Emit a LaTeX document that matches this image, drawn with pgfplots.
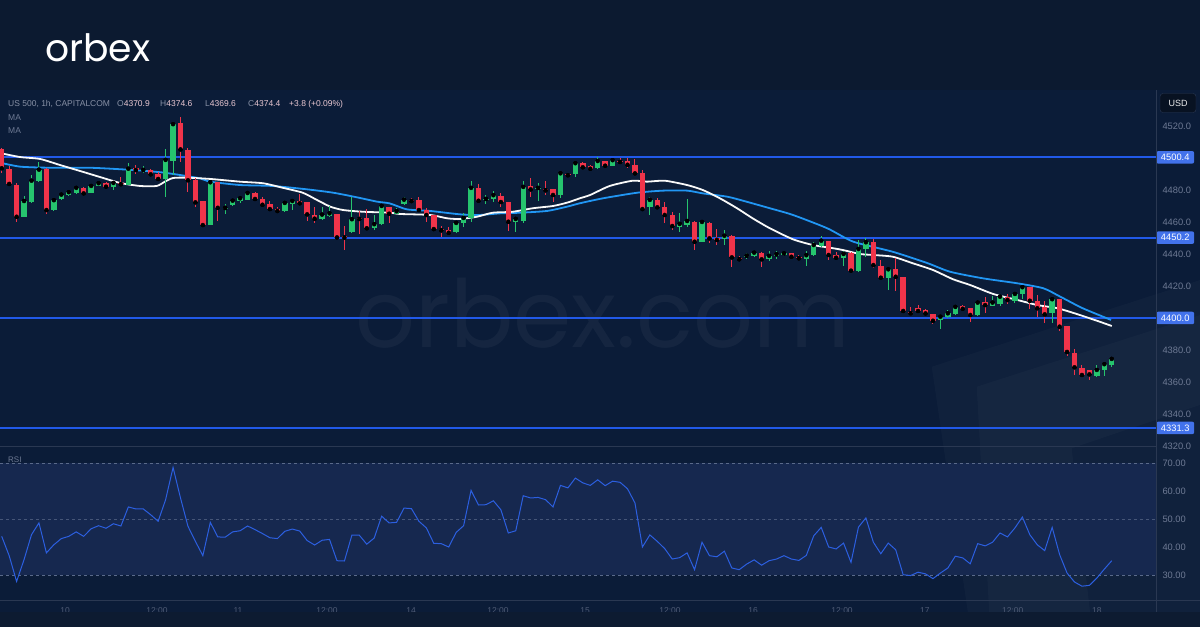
\documentclass[border=0pt]{standalone}
\usepackage{pgfplots}
\pgfplotsset{compat=1.18}
\usepackage{pgfplotstable}
\usepackage{fontspec}
\setmainfont{Liberation Sans}
\newfontfamily\logofont{Poppins}
\definecolor{hdrbg}{HTML}{0C1A30}
\definecolor{chartbg}{HTML}{0B1C38}
\definecolor{footbg}{HTML}{0D1B31}
\definecolor{rsiband}{HTML}{16284F}
\definecolor{cgreen}{HTML}{26C46E}
\definecolor{cred}{HTML}{F0344A}
\definecolor{hline}{HTML}{2159E8}
\definecolor{maBlue}{HTML}{2196F3}
\definecolor{axtxt}{HTML}{6E7A94}
\definecolor{dimtxt}{HTML}{4F5B75}
\definecolor{sep}{HTML}{2A3852}
\definecolor{rsiline}{HTML}{2C5FE0}
\definecolor{valtxt}{HTML}{EBC9D3}
\definecolor{hdrtxt}{HTML}{8790A5}
\definecolor{dashc}{HTML}{5A6A8A}

\pgfplotstableread{
i O H L C
3 4463.1 4476.4 4463.1 4473.1
4 4472.3 4489.4 4471.7 4485.8
5 4485.4 4497.7 4485.2 4492.7
7 4467.5 4474.2 4466.9 4473.6
8 4474.2 4477.5 4473.8 4477.1
9 4476.9 4479.8 4476.4 4478.6
10 4478.3 4482.5 4477.7 4481.3
12 4478.3 4483.8 4477.9 4482.5
13 4482.7 4485.2 4482.5 4484.2
15 4482.1 4485.2 4480.0 4484.4
17 4483.1 4497.1 4483.1 4493.3
19 4491.9 4495.2 4490.4 4492.5
22 4486.7 4505.4 4475.8 4498.8
23 4498.3 4521.5 4489.4 4521.1
28 4458.1 4485.0 4457.9 4484.8
30 4468.3 4471.3 4465.0 4468.8
31 4470.4 4473.8 4470.0 4473.3
32 4472.9 4475.8 4471.7 4474.8
33 4474.0 4479.4 4473.8 4478.1
38 4466.9 4472.7 4466.4 4471.9
39 4471.4 4473.8 4467.5 4473.1
43 4462.1 4469.6 4461.3 4464.6
44 4463.9 4470.2 4462.9 4465.4
47 4453.9 4475.4 4453.3 4461.7
50 4456.1 4464.4 4454.9 4458.6
51 4458.8 4471.3 4457.9 4470.0
53 4465.2 4468.6 4465.0 4466.7
54 4471.3 4475.4 4470.6 4473.9
61 4453.6 4460.8 4452.9 4459.4
62 4459.4 4465.4 4457.1 4462.5
63 4462.3 4485.6 4460.2 4481.3
65 4473.8 4477.1 4471.3 4474.4
66 4474.4 4479.4 4472.3 4476.7
69 4459.8 4463.3 4453.6 4461.9
70 4460.8 4485.8 4459.6 4481.9
72 4480.6 4484.4 4473.3 4481.3
75 4476.9 4490.6 4474.8 4490.4
77 4489.8 4497.7 4488.3 4496.7
80 4493.6 4500.8 4492.9 4498.1
82 4495.2 4498.8 4495.0 4498.6
87 4469.2 4475.4 4464.4 4473.8
91 4457.1 4465.8 4453.6 4458.8
92 4458.1 4474.2 4457.1 4460.6
94 4447.7 4460.6 4447.5 4460.0
97 4449.2 4455.0 4445.6 4451.4
100 4437.9 4440.4 4436.9 4438.9
101 4438.9 4441.4 4438.3 4440.8
103 4436.7 4441.9 4435.8 4438.8
104 4438.8 4441.9 4436.7 4439.8
105 4439.4 4442.1 4438.8 4440.4
108 4437.1 4441.9 4432.7 4439.2
109 4439.2 4447.7 4438.8 4445.6
110 4445.2 4451.4 4444.2 4448.3
113 4437.3 4442.1 4432.5 4440.0
115 4429.2 4448.8 4428.8 4443.1
116 4443.1 4449.8 4438.3 4447.3
119 4424.8 4430.6 4417.5 4430.4
126 4398.8 4401.3 4393.1 4400.8
127 4400.4 4405.0 4399.8 4402.9
128 4402.5 4407.1 4401.9 4406.9
131 4401.9 4410.8 4401.3 4409.6
133 4407.7 4413.8 4407.5 4409.6
134 4408.9 4413.8 4407.5 4413.3
136 4410.6 4415.8 4409.6 4415.0
137 4415.0 4420.6 4411.7 4419.2
141 4402.9 4412.3 4396.7 4411.7
147 4363.8 4370.6 4363.1 4367.5
148 4367.5 4372.3 4363.8 4371.1
149 4370.9 4374.6 4369.6 4374.4
}\greentab

\pgfplotstableread{
i O H L C
0 4505.4 4506.1 4490.4 4493.6
1 4493.1 4495.2 4483.1 4483.8
2 4483.3 4484.2 4459.8 4463.3
6 4493.1 4493.6 4465.2 4467.5
11 4481.3 4481.7 4477.3 4477.9
14 4484.4 4485.2 4481.9 4482.1
16 4484.6 4487.9 4483.1 4483.6
18 4493.6 4495.6 4489.8 4492.5
20 4492.5 4493.1 4489.4 4489.8
21 4489.8 4491.4 4486.7 4486.9
24 4521.7 4525.8 4497.7 4505.4
25 4505.2 4506.1 4478.6 4486.1
26 4486.1 4487.3 4469.6 4472.3
27 4472.9 4473.1 4457.9 4458.1
29 4484.8 4485.0 4460.6 4468.9
34 4478.3 4478.8 4474.1 4474.4
35 4474.4 4475.8 4470.2 4470.8
36 4471.4 4473.3 4467.5 4468.1
37 4468.1 4469.4 4466.3 4466.9
40 4473.3 4477.5 4471.3 4471.7
41 4472.3 4472.5 4460.8 4464.8
42 4464.2 4469.4 4459.6 4462.1
45 4465.0 4465.2 4450.2 4450.4
46 4451.3 4457.5 4442.5 4450.3
48 4462.5 4466.9 4452.5 4461.9
49 4462.3 4468.1 4455.0 4456.1
52 4469.4 4469.6 4459.6 4465.2
55 4473.8 4475.2 4471.7 4473.1
56 4473.8 4475.4 4466.9 4467.5
57 4467.3 4468.6 4460.2 4464.4
58 4464.2 4464.4 4455.0 4455.6
59 4455.6 4457.5 4450.4 4454.8
60 4455.0 4456.7 4452.9 4453.3
64 4481.3 4483.8 4472.5 4473.3
67 4476.4 4478.3 4469.6 4472.5
68 4472.3 4472.5 4454.4 4460.2
71 4482.3 4487.3 4475.8 4480.4
73 4480.8 4485.8 4476.9 4479.8
74 4480.4 4480.6 4472.7 4476.9
76 4490.0 4490.4 4488.3 4489.2
78 4497.1 4497.7 4493.6 4494.2
79 4494.8 4495.6 4492.9 4493.3
81 4498.1 4498.3 4494.2 4495.2
83 4498.1 4499.8 4497.3 4497.5
84 4498.1 4499.8 4493.6 4495.8
85 4495.8 4499.4 4490.0 4490.4
86 4490.8 4492.5 4467.9 4468.1
88 4473.8 4474.8 4467.9 4469.2
89 4469.2 4472.3 4459.2 4464.4
90 4464.4 4466.1 4455.0 4457.5
93 4460.2 4460.4 4442.5 4447.7
95 4459.6 4459.8 4446.7 4449.8
96 4450.0 4455.4 4445.6 4448.8
98 4451.3 4451.9 4431.7 4437.9
99 4437.7 4438.8 4435.6 4436.7
102 4440.8 4441.4 4431.7 4436.7
106 4440.4 4440.6 4436.7 4438.3
107 4438.1 4439.4 4436.3 4437.3
111 4448.1 4448.3 4436.3 4439.4
112 4439.4 4441.4 4436.9 4437.7
114 4440.4 4441.4 4429.2 4429.6
117 4447.5 4449.2 4431.1 4433.1
118 4432.5 4436.3 4425.0 4425.2
120 4430.6 4437.3 4417.1 4425.8
121 4425.6 4425.8 4404.0 4404.4
122 4403.8 4406.7 4401.3 4402.9
123 4406.1 4408.1 4404.0 4404.4
124 4405.0 4405.4 4401.9 4402.9
125 4402.3 4402.5 4396.3 4398.3
129 4407.5 4408.1 4405.4 4405.8
130 4406.1 4406.3 4397.7 4401.9
132 4410.2 4412.9 4403.3 4408.1
135 4412.9 4415.0 4408.8 4411.3
138 4419.2 4419.6 4405.4 4410.8
139 4410.8 4414.4 4400.8 4406.1
140 4406.7 4410.8 4396.7 4402.3
142 4411.9 4412.1 4392.1 4394.6
143 4395.0 4395.2 4376.3 4378.8
144 4378.3 4380.8 4364.4 4369.2
145 4368.9 4370.6 4364.0 4364.4
146 4367.5 4367.7 4361.1 4364.8
}\redtab

\pgfplotstableread{
i r
0 43.8
1 36.9
2 27.7
3 35.5
4 44.4
5 48.6
6 37.9
7 40.8
8 43.0
9 43.8
10 45.4
11 43.8
12 46.5
13 47.6
14 46.7
15 48.3
16 47.5
17 54.3
18 53.6
19 53.6
20 51.5
21 49.2
22 56.9
23 68.4
24 57.5
25 47.4
26 42.0
27 36.9
28 48.8
29 43.6
30 43.5
31 45.4
32 45.8
33 47.5
34 46.2
35 44.8
36 43.3
37 43.0
38 45.6
39 46.4
40 45.7
41 42.3
42 40.7
43 42.4
44 42.7
45 35.1
46 35.0
47 44.2
48 44.2
49 41.0
50 43.2
51 51.0
52 48.6
53 48.8
54 53.9
55 53.7
56 49.2
57 46.8
58 41.3
59 41.2
60 40.0
61 45.2
62 47.6
63 60.2
64 55.0
65 55.1
66 56.5
67 53.3
68 45.0
69 45.8
70 58.3
71 57.5
72 57.7
73 56.9
74 54.3
75 62.0
76 61.1
77 64.6
78 62.9
79 62.0
80 64.0
81 61.9
82 63.5
83 63.1
84 60.8
85 55.7
86 40.0
87 44.3
88 42.0
89 39.4
90 35.7
91 36.2
92 37.9
93 31.9
94 41.7
95 36.9
96 36.5
97 38.5
98 32.5
99 31.9
100 33.9
101 35.4
102 33.5
103 35.1
104 35.7
105 36.9
106 35.7
107 35.2
108 37.0
109 44.0
110 47.0
111 40.0
112 39.3
113 41.4
114 34.5
115 47.1
116 50.4
117 41.7
118 37.6
119 41.4
120 39.0
121 30.1
122 29.8
123 31.0
124 30.4
125 28.7
126 30.7
127 32.5
128 36.7
129 36.1
130 34.0
131 41.2
132 40.4
133 41.7
134 45.0
135 43.6
136 46.8
137 50.7
138 44.4
139 40.8
140 38.7
141 47.0
142 37.3
143 30.7
144 27.5
145 26.0
146 26.3
147 28.9
148 32.1
149 35.1
}\rsitab

\tikzset{lvtag/.style={anchor=west, fill=hline!85!white, rounded corners=2pt, text=white, inner sep=0pt,
        minimum width=38pt, minimum height=12.5pt, font=\fontsize{9.3}{10}\selectfont}}

\begin{document}
\begin{tikzpicture}[x=1pt,y=1pt]
\useasboundingbox (0,0) rectangle (1200,627);
\fill[chartbg] (0,0) rectangle (1200,627);
\fill[hdrbg] (0,537) rectangle (1200,627);
% watermark and decoration
\node[anchor=base west, inner sep=0, text=white, text opacity=0.045] at (355,280) {\resizebox{495pt}{!}{\logofont orbex.com}};
\fill[white, opacity=0.022] (931.7,260.3) -- (1200,347) -- (1200,0) -- (970,0) -- cycle;
\fill[white, opacity=0.022] (976.7,240.3) -- (1200,312) -- (1200,222) -- (1071.7,178.7) -- (1091.7,0) -- (990,0) -- cycle;

% ---------- price pane ----------
\begin{axis}[
  at={(0pt,180pt)}, anchor=south west, scale only axis,
  width=1156pt, height=357pt,
  xmin=-0.23, xmax=154.94, ymin=4319.375, ymax=4542.5,
  axis line style={draw=none}, tick style={draw=none},
  xtick=\empty,
  ytick={4320,4340,4360,4380,4420,4440,4460,4480,4520},
  yticklabel pos=right,
  yticklabel style={anchor=west, xshift=3pt, font=\fontsize{9.3}{10}\selectfont, text=axtxt,
    /pgf/number format/.cd, fixed, fixed zerofill, precision=1, 1000 sep={}, assume math mode=true},
  clip mode=individual,
]
\addplot[hline, line width=1.8pt, forget plot] coordinates {(-1,4500.4) (160,4500.4)};
\addplot[hline, line width=1.8pt, forget plot] coordinates {(-1,4450.2) (160,4450.2)};
\addplot[hline, line width=1.8pt, forget plot] coordinates {(-1,4400.0) (160,4400.0)};
\addplot[hline, line width=1.8pt, forget plot] coordinates {(-1,4331.3) (160,4331.3)};

% moving averages
\addplot[maBlue, line width=1.8pt, smooth, tension=0.4] coordinates {
(-0.23,4497.1) (2.46,4494.6) (6.48,4493.9) (11.9,4493.9) (17.6,4492.5) (21.3,4491.1) (23.9,4489.4) (26.6,4487.3) (28.0,4485.2) (32.0,4483.1) (36.4,4482.5) (41.0,4480.4) (44.5,4478.3) (47.7,4475.4) (50.4,4472.7) (52.1,4471.6) (54.4,4467.9) (57.5,4466.9) (61.5,4464.8) (64.2,4464.4) (66.9,4465.4) (69.6,4465.8) (73.2,4466.9) (75.9,4469.6) (77.6,4471.7) (80.7,4474.8) (85.3,4478.3) (88.8,4479.6) (92.0,4479.6) (94.1,4477.9) (97.4,4475.8) (99.5,4473.3) (103.1,4468.6) (106.2,4464.4) (110.8,4456.1) (114.3,4447.7) (119.6,4441.4) (124.2,4434.4) (127.3,4428.9) (131.7,4424.8) (136.3,4421.7) (139.8,4418.6) (142.1,4413.3) (145.1,4406.1) (148.9,4398.8)};
\addplot[white!95!gray, line width=1.8pt, smooth, tension=0.4] coordinates {
(-0.23,4503.1) (2.46,4500.6) (5.14,4499.4) (7.83,4495.6) (10.5,4491.9) (13.2,4488.1) (15.9,4484.4) (18.6,4482.5) (20.8,4482.5) (21.9,4485.2) (23.0,4487.5) (24.9,4487.7) (28.0,4486.9) (32.0,4485.2) (35.1,4484.2) (37.8,4481.3) (40.4,4478.3) (42.3,4473.8) (44.1,4469.6) (45.8,4467.5) (48.5,4466.4) (52.1,4465.8) (53.5,4465.0) (57.5,4464.4) (59.8,4462.3) (61.5,4461.9) (63.8,4463.3) (65.9,4465.8) (68.6,4466.4) (71.3,4468.6) (74.0,4470.0) (75.9,4472.1) (77.6,4474.8) (79.0,4476.9) (81.6,4482.5) (84.7,4485.8) (86.6,4485.2) (89.0,4485.8) (92.0,4483.1) (94.1,4480.0) (96.4,4474.8) (98.7,4468.6) (100.8,4462.3) (103.1,4456.1) (106.2,4449.2) (108.9,4445.6) (111.6,4443.6) (112.9,4442.5) (115.2,4440.0) (116.9,4439.4) (119.6,4438.3) (122.3,4434.2) (125.0,4430.0) (127.7,4424.2) (130.0,4420.6) (133.1,4415.0) (136.3,4411.3) (139.0,4408.1) (141.7,4406.1) (144.3,4402.5) (147.0,4398.3) (149.0,4395.0)};

% candles: wicks
\addplot[only marks, mark=none, forget plot,
  error bars/.cd, y dir=both, y explicit, error mark=none,
  error bar style={line width=1pt, draw=cgreen}]
  table[x=i, y=C, y error plus expr=\thisrow{H}-\thisrow{C}, y error minus expr=\thisrow{C}-\thisrow{L}] {\greentab};
\addplot[only marks, mark=none, forget plot,
  error bars/.cd, y dir=both, y explicit, error mark=none,
  error bar style={line width=1pt, draw=cred}]
  table[x=i, y=C, y error plus expr=\thisrow{H}-\thisrow{C}, y error minus expr=\thisrow{C}-\thisrow{L}] {\redtab};
% candles: bodies
\addplot[only marks, mark=none, forget plot,
  error bars/.cd, y dir=both, y explicit, error mark=none,
  error bar style={line width=5.4pt, draw=cgreen}]
  table[x=i, y=C, y error plus expr=0, y error minus expr=\thisrow{C}-\thisrow{O}] {\greentab};
\addplot[only marks, mark=none, forget plot,
  error bars/.cd, y dir=both, y explicit, error mark=none,
  error bar style={line width=5.4pt, draw=cred}]
  table[x=i, y=C, y error plus expr=\thisrow{O}-\thisrow{C}, y error minus expr=0] {\redtab};

% level tags
\node[lvtag] at (axis cs:154.94,4500.4) {4500.4};
\node[lvtag] at (axis cs:154.94,4450.2) {4450.2};
\node[lvtag] at (axis cs:154.94,4400.0) {4400.0};
\node[lvtag] at (axis cs:154.94,4331.3) {4331.3};
\end{axis}

% ---------- RSI pane ----------
\begin{axis}[
  at={(0pt,27pt)}, anchor=south west, scale only axis,
  width=1156pt, height=153pt,
  xmin=-0.23, xmax=154.94, ymin=21.07, ymax=75.71,
  axis line style={draw=none}, tick style={draw=none},
  ytick={30,40,50,60,70},
  yticklabel pos=right,
  yticklabel style={anchor=west, xshift=3pt, font=\fontsize{9.3}{10}\selectfont, text=axtxt,
    /pgf/number format/.cd, fixed, fixed zerofill, precision=2, assume math mode=true},
  xtick={8.5,20.85,31.72,43.66,54.94,66.62,78.3,89.7,100.85,112.8,123.9,135.7,147.0},
  xticklabels={10,12:00,11,12:00,14,12:00,15,12:00,16,12:00,17,12:00,18},
  xticklabel style={font=\fontsize{8.5}{9}\selectfont, text=dimtxt, yshift=-4pt},
  clip mode=individual,
]
\fill[rsiband] (axis cs:-0.23,30) rectangle (axis cs:154.94,70);
\draw[dashc, line width=0.8pt, dash pattern=on 3pt off 3pt] (axis cs:-0.23,70) -- (axis cs:154.94,70);
\draw[dashc!70!rsiband, line width=0.8pt, dash pattern=on 3pt off 3pt] (axis cs:-0.23,50) -- (axis cs:154.94,50);
\draw[dashc, line width=0.8pt, dash pattern=on 3pt off 3pt] (axis cs:-0.23,30) -- (axis cs:154.94,30);
\addplot[rsiline, line width=1pt] table[x=i, y=r] {\rsitab};
\end{axis}

% separators
\draw[sep, line width=1pt] (0,180) -- (1156,180);
\draw[sep, line width=1pt] (0,27) -- (1200,27);
\draw[sep, line width=1pt] (1156,15) -- (1156,537);
\fill[footbg] (0,0) rectangle (1200,15);

% header texts
\node[anchor=base west, inner sep=0, text=white] at (45,565) {\resizebox{105pt}{!}{\logofont orbex}};
\node[anchor=base west, inner sep=0, font=\fontsize{8.5}{10}\selectfont, text=hdrtxt] at (8,520) {US 500, 1h, CAPITALCOM};
\node[anchor=base west, inner sep=0, font=\fontsize{8.5}{10}\selectfont, text=hdrtxt] at (117,520) {O\textcolor{valtxt}{4370.9}};
\node[anchor=base west, inner sep=0, font=\fontsize{8.5}{10}\selectfont, text=hdrtxt] at (160,520) {H\textcolor{valtxt}{4374.6}};
\node[anchor=base west, inner sep=0, font=\fontsize{8.5}{10}\selectfont, text=hdrtxt] at (205,520) {L\textcolor{valtxt}{4369.6}};
\node[anchor=base west, inner sep=0, font=\fontsize{8.5}{10}\selectfont, text=hdrtxt] at (248,520) {C\textcolor{valtxt}{4374.4}};
\node[anchor=base west, inner sep=0, font=\fontsize{8.5}{10}\selectfont, text=valtxt] at (289,520) {+3.8 (+0.09\%)};
\node[anchor=base west, inner sep=0, font=\fontsize{8.5}{10}\selectfont, text=axtxt] at (8,506) {MA};
\node[anchor=base west, inner sep=0, font=\fontsize{8.5}{10}\selectfont, text=axtxt] at (8,493) {MA};
\node[anchor=base west, inner sep=0, font=\fontsize{8}{10}\selectfont, text=axtxt] at (8,164) {RSI};
\node[draw=sep, fill=hdrbg!70!black, rounded corners=3pt, minimum width=36pt, minimum height=19pt,
      inner sep=0, text=white!85!gray, font=\fontsize{9}{10}\selectfont] at (1178,524) {USD};
\end{tikzpicture}
\end{document}
